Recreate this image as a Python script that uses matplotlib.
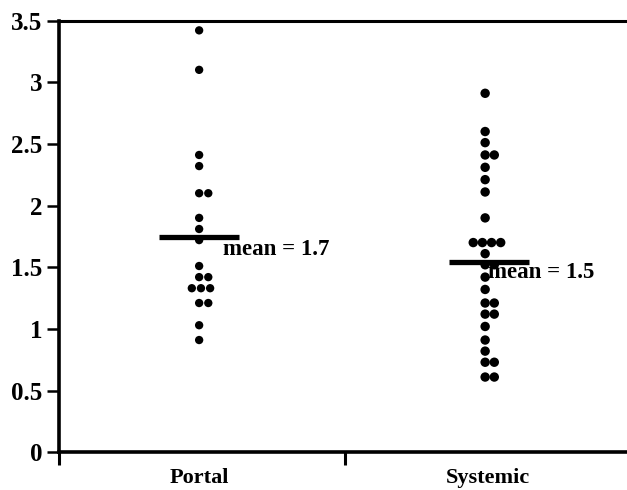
import matplotlib
matplotlib.use("Agg")
import matplotlib.pyplot as plt
import numpy as np

# ---- data ----
categories = ["Portal", "Systemic"]
portal = [3.42, 3.10, 2.41, 2.32, 2.10, 2.10, 1.90, 1.81, 1.72, 1.51,
          1.42, 1.42, 1.33, 1.33, 1.33, 1.21, 1.21, 1.03, 0.91]
systemic = [2.91, 2.60, 2.51, 2.41, 2.41, 2.31, 2.21, 2.11, 1.90,
            1.70, 1.70, 1.70, 1.70, 1.61, 1.52, 1.52, 1.42, 1.32,
            1.21, 1.21, 1.12, 1.12, 1.02, 0.91, 0.82, 0.73, 0.73, 0.61, 0.61]
mean_lines = [1.745, 1.54]
mean_labels = ["mean = 1.7", "mean = 1.5"]
y_ticks = [0, 0.5, 1, 1.5, 2, 2.5, 3, 3.5]
y_ticklabels = ["0", "0.5", "1", "1.5", "2", "2.5", "3", "3.5"]

FONT = "Liberation Serif"
plt.rcParams["font.family"] = [FONT, "DejaVu Serif"]

fig = plt.figure(figsize=(6.27, 4.90), dpi=100)
ax = fig.add_axes([59 / 627, 1 - 452.3 / 490, 1 - 59 / 627, (452.3 - 20.5) / 490])

centers = [0.49, 1.49]
step = 0.032
sizes = [36, 46]


def swarm_offsets(vals):
    vals = np.asarray(vals)
    offs = np.zeros(len(vals))
    uniq = {}
    for i, v in enumerate(vals):
        uniq.setdefault(round(v, 3), []).append(i)
    for v, idx in uniq.items():
        n = len(idx)
        if n == 1:
            pattern = [0.0]
        elif n == 2:
            pattern = [0.0, 1.0]
        else:
            pattern = list(np.arange(n) - (n - 1) / 2.0 + 0.2)
        for k, i in enumerate(idx):
            offs[i] = pattern[k] * step
    return offs


for c, vals, s in zip(centers, [portal, systemic], sizes):
    xs = c + swarm_offsets(vals)
    ax.scatter(xs, vals, s=s, color="black", edgecolors="none", zorder=3)

# mean lines
half = 0.14
ax.plot([centers[0] - half, centers[0] + half], [mean_lines[0]] * 2,
        color="black", lw=3.8, solid_capstyle="butt", zorder=4)
ax.plot([centers[1] - half + 0.015, centers[1] + half + 0.015], [mean_lines[1]] * 2,
        color="black", lw=3.8, solid_capstyle="butt", zorder=4)

ax.text(centers[0] + 0.083, mean_lines[0] - 0.10, mean_labels[0], fontsize=16.5,
        fontweight="bold", va="center", ha="left")
ax.text(centers[1] + 0.01, mean_lines[1] - 0.085, mean_labels[1], fontsize=16.5,
        fontweight="bold", va="center", ha="left")

ax.set_xlim(0, 568 / 286)
ax.set_ylim(0, 3.5)

ax.set_yticks(y_ticks)
ax.set_yticklabels(y_ticklabels, fontsize=18, fontweight="bold")
ax.set_xticks([0, 1])
ax.set_xticklabels(["", ""])
ax.set_xticks([0.49, 1.5], minor=True)
ax.set_xticklabels(categories, minor=True, fontsize=16, fontweight="bold")

ax.tick_params(axis="y", direction="out", length=9, width=1.8, pad=3)
ax.tick_params(axis="x", which="major", direction="out", length=9, width=2.2)
ax.tick_params(axis="x", which="minor", length=0, pad=11)

ax.spines["left"].set_linewidth(2.6)
ax.spines["bottom"].set_linewidth(2.6)
ax.spines["top"].set_linewidth(2.2)
ax.spines["right"].set_visible(False)

fig.savefig("out.png", dpi=100)
